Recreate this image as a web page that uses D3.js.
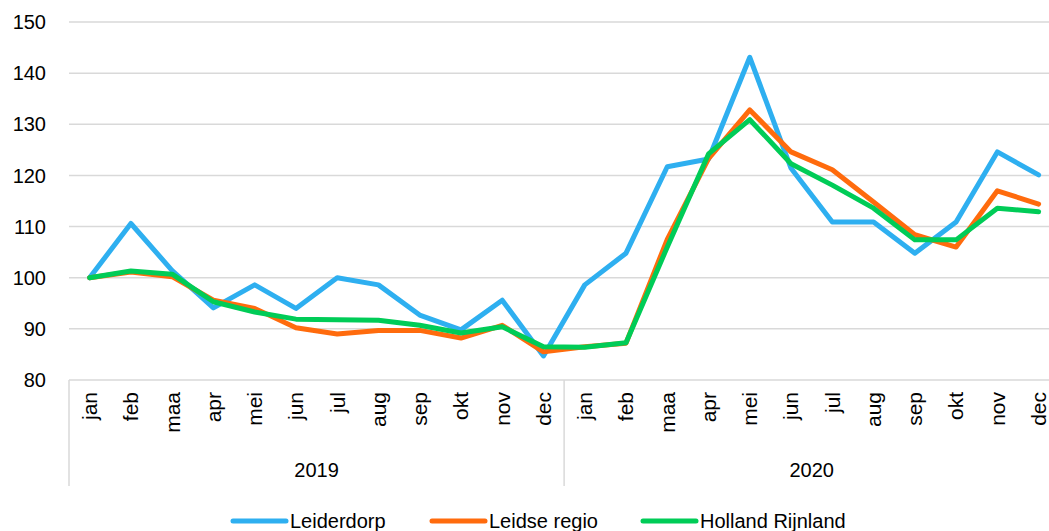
<!DOCTYPE html>
<html lang="nl">
<head>
<meta charset="UTF-8">
<script src="https://d3js.org/d3.v7.min.js"></script>
<style>
  body { margin: 0; background: #fff; }
  svg { display: block; font-family: "Liberation Sans", Arial, sans-serif; }
</style>
</head>
<body>
<script>
// maanden en jaren
var months = ["jan","feb","maa","apr","mei","jun","jul","aug","sep","okt","nov","dec"];
var years = ["2019", "2020"];
var yTicks = [80, 90, 100, 110, 120, 130, 140, 150];

// indexcijfers (jan 2019 = 100)
var leiderdorp = [100, 110.6, 101.4, 94.1, 98.6, 94.0, 100.0, 98.6, 92.7, 89.8, 95.6, 84.7,
                  98.6, 104.8, 121.7, 123.2, 143.1, 121.4, 110.9, 110.9, 104.8, 110.9, 124.6, 120.1];
var leidseRegio = [100, 101.1, 100.2, 95.6, 94.0, 90.2, 89.0, 89.7, 89.7, 88.2, 90.7, 85.5,
                   86.5, 87.2, 107.5, 123.3, 132.8, 124.6, 121.1, 114.8, 108.4, 106.0, 117.0, 114.4];
var hollandRijnland = [100, 101.3, 100.7, 95.3, 93.3, 91.9, 91.8, 91.7, 90.7, 89.2, 90.4, 86.5,
                       86.4, 87.3, 106.0, 124.2, 130.9, 122.3, 118.1, 113.6, 107.4, 107.4, 113.6, 112.9];

var series = [
  {name: "Leiderdorp", values: leiderdorp, color: "#2eaff0"},
  {name: "Leidse regio", values: leidseRegio, color: "#ff6b0d"},
  {name: "Holland Rijnland", values: hollandRijnland, color: "#00cc57"}
];

var width = 1049, height = 531;
var svg = d3.select("body").append("svg")
    .attr("width", width)
    .attr("height", height);

var plotLeft = 69, step = 41.26, plotTop = 22, plotBottom = 380;
var labels = [];
years.forEach(function(y) { months.forEach(function(m) { labels.push(y + "-" + m); }); });

var x = d3.scaleBand().domain(labels).range([plotLeft, plotLeft + step * labels.length]).padding(0);
var y = d3.scaleLinear().domain([80, 150]).range([plotBottom, plotTop]);

// rasterlijnen
svg.append("g").selectAll("line")
  .data(yTicks)
  .enter().append("line")
  .attr("x1", plotLeft).attr("x2", width)
  .attr("y1", function(d){ return y(d); })
  .attr("y2", function(d){ return y(d); })
  .attr("stroke", "#d9d9d9")
  .attr("stroke-width", 1.5);

// y-as labels
svg.append("g").selectAll("text")
  .data(yTicks)
  .enter().append("text")
  .attr("x", 46)
  .attr("y", function(d){ return y(d); })
  .attr("dy", "0.36em")
  .attr("text-anchor", "end")
  .attr("font-size", 20)
  .attr("fill", "#000")
  .text(function(d){ return d; });

// scheidingslijnen jaren
var seps = [0, 12, 24];
svg.append("g").selectAll("line")
  .data(seps)
  .enter().append("line")
  .attr("x1", function(d){ return plotLeft + d * step; })
  .attr("x2", function(d){ return plotLeft + d * step; })
  .attr("y1", plotBottom)
  .attr("y2", 486)
  .attr("stroke", "#d9d9d9")
  .attr("stroke-width", 1.5);

// maandlabels
svg.append("g").selectAll("text")
  .data(labels)
  .enter().append("text")
  .attr("transform", function(d){ return "translate(" + (x(d) + x.bandwidth() / 2) + ",392) rotate(-90)"; })
  .attr("dy", "0.35em")
  .attr("text-anchor", "end")
  .attr("font-size", 21)
  .attr("fill", "#000")
  .text(function(d){ return d.split("-")[1]; });

// jaarlabels
svg.append("g").selectAll("text")
  .data(years)
  .enter().append("text")
  .attr("x", function(d, i){ return plotLeft + (i * 12 + 6) * step; })
  .attr("y", 477)
  .attr("text-anchor", "middle")
  .attr("font-size", 20)
  .attr("fill", "#000")
  .text(function(d){ return d; });

// lijnen
var line = d3.line()
  .x(function(d, i){ return x(labels[i]) + x.bandwidth() / 2; })
  .y(function(d){ return y(d); });

svg.append("g").selectAll("path")
  .data(series)
  .enter().append("path")
  .attr("d", function(d){ return line(d.values); })
  .attr("fill", "none")
  .attr("stroke", function(d){ return d.color; })
  .attr("stroke-width", 5)
  .attr("stroke-linejoin", "round")
  .attr("stroke-linecap", "round");

// legenda
var legendX = [231, 430, 641];
var legend = svg.append("g").selectAll("g")
  .data(series)
  .enter().append("g")
  .attr("transform", function(d, i){ return "translate(" + legendX[i] + ",521)"; });

legend.append("line")
  .attr("x1", 2).attr("x2", 55)
  .attr("stroke", function(d){ return d.color; })
  .attr("stroke-width", 5)
  .attr("stroke-linecap", "round");

legend.append("text")
  .attr("x", 59)
  .attr("dy", "0.36em")
  .attr("font-size", 20)
  .attr("fill", "#000")
  .text(function(d){ return d.name; });
</script>
</body>
</html>
